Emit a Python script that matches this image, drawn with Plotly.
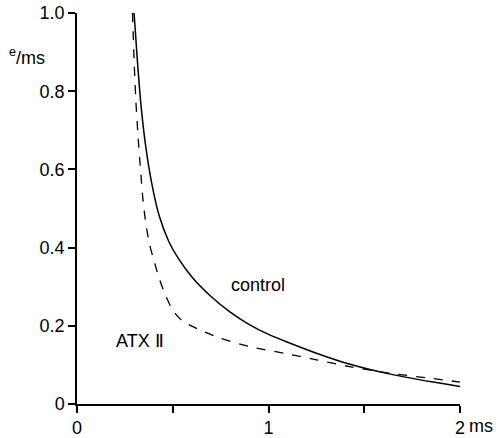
import plotly.graph_objects as go

# data
control_x = [0.298, 0.315, 0.335, 0.36, 0.39, 0.43, 0.48, 0.53, 0.60, 0.70, 0.80, 0.90, 1.0, 1.1,
             1.25, 1.43, 1.63, 1.86, 2.0]
control_y = [1.0, 0.88, 0.76, 0.655, 0.565, 0.48, 0.415, 0.372, 0.325, 0.275, 0.235, 0.203, 0.178, 0.158,
             0.130, 0.101, 0.077, 0.056, 0.045]

atx_x = [0.29, 0.298, 0.307, 0.318, 0.33, 0.345, 0.36, 0.378, 0.40, 0.43, 0.465, 0.50, 0.55, 0.64,
         0.75, 0.90, 1.08, 1.25, 1.43, 1.63, 1.86, 2.0]
atx_y = [1.0, 0.88, 0.78, 0.69, 0.61, 0.52, 0.46, 0.41, 0.37, 0.32, 0.275, 0.24, 0.213, 0.19,
         0.168, 0.147, 0.13, 0.113, 0.095, 0.079, 0.065, 0.056]

x_ticks = [0, 1, 2]
x_ticktext = ["0", "1", "2"]
x_minor_ticks = [0.5, 1.5]
y_ticks = [0, 0.2, 0.4, 0.6, 0.8, 1.0]
y_ticktext = ["0", "0.2", "0.4", "0.6", "0.8", "1.0"]

FONT = "Liberation Sans, Arial, sans-serif"

fig = go.Figure()
fig.add_trace(go.Scatter(x=control_x, y=control_y, mode="lines",
                         line=dict(color="black", width=1.5, shape="spline", smoothing=0.8), name="control"))
fig.add_trace(go.Scatter(x=atx_x, y=atx_y, mode="lines",
                         line=dict(color="black", width=1.3, dash="dash", shape="spline", smoothing=0.8), name="ATX II"))

fig.update_layout(
    template="none",
    width=498, height=438,
    margin=dict(l=77, r=38, t=13, b=34, pad=0),
    paper_bgcolor="white", plot_bgcolor="white",
    showlegend=False,
    font=dict(family=FONT, size=18, color="black"),
)
fig.update_xaxes(range=[0, 2], tickvals=x_ticks, ticktext=x_ticktext, showgrid=False, zeroline=False,
                 automargin=False,
                 showline=True, linecolor="black", linewidth=1.5, ticks="outside", ticklen=7,
                 tickcolor="black", tickwidth=1.5, tickfont=dict(size=18), ticklabelstandoff=0,
                 minor=dict(tickvals=x_minor_ticks, ticks="outside", ticklen=7, tickwidth=1.5,
                            tickcolor="black", showgrid=False))
fig.update_yaxes(range=[0, 1], tickvals=y_ticks, ticktext=y_ticktext, showgrid=False, zeroline=False,
                 automargin=False,
                 showline=True, linecolor="black", linewidth=1.5, ticks="outside", ticklen=7,
                 tickcolor="black", tickwidth=1.5, tickfont=dict(size=18))

fig.add_annotation(x=0.945, y=0.304, text="control", showarrow=False, font=dict(size=18))
fig.add_annotation(x=0.33, y=0.16, text="ATX Ⅱ", showarrow=False, font=dict(size=18))
fig.add_annotation(xref="paper", yref="paper", x=(467 - 77) / 383, y=1 - (426 - 13) / 391,
                   text="ms", showarrow=False, xanchor="left", yanchor="middle", font=dict(size=18))
fig.add_annotation(xref="paper", yref="paper", x=-70 / 383, y=1 - (57 - 13) / 391,
                   text="<sup>e</sup>/ms", showarrow=False, xanchor="left", yanchor="middle",
                   font=dict(size=18))

fig.write_html("out.html")
